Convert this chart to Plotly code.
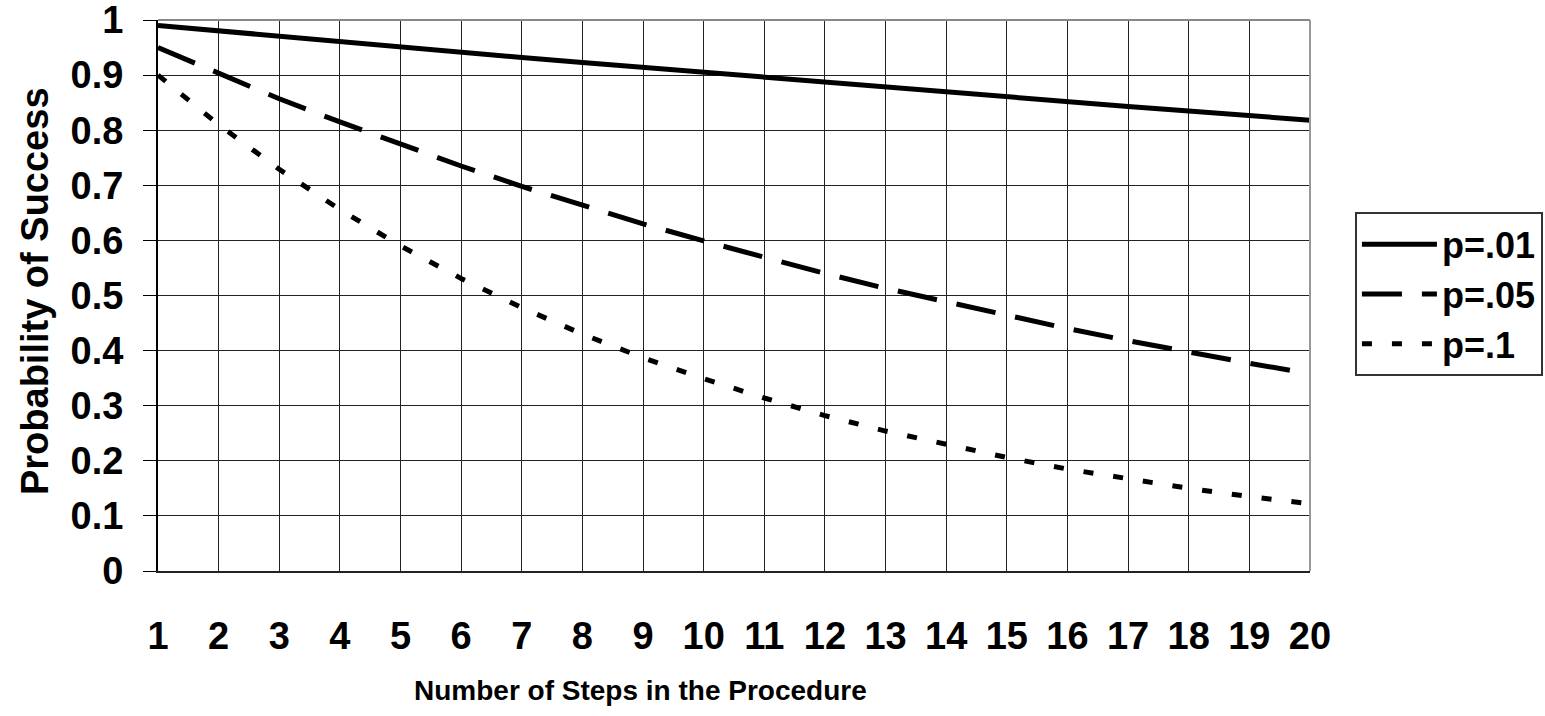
import plotly.graph_objects as go

# Number of steps in the procedure
steps = list(range(1, 21))

# Probability that every step succeeds, for three per-step error rates
p_001 = [0.990, 0.980, 0.970, 0.961, 0.951, 0.941, 0.932, 0.923, 0.914, 0.904,
         0.895, 0.886, 0.878, 0.869, 0.860, 0.851, 0.843, 0.835, 0.826, 0.818]
p_005 = [0.950, 0.903, 0.857, 0.815, 0.774, 0.735, 0.698, 0.663, 0.630, 0.599,
         0.569, 0.540, 0.513, 0.488, 0.463, 0.440, 0.418, 0.397, 0.377, 0.358]
p_010 = [0.900, 0.810, 0.729, 0.656, 0.590, 0.531, 0.478, 0.430, 0.387, 0.349,
         0.314, 0.282, 0.254, 0.229, 0.206, 0.185, 0.167, 0.150, 0.135, 0.122]

series_names = ["p=.01", "p=.05", "p=.1"]
y_ticks = [0, 0.1, 0.2, 0.3, 0.4, 0.5, 0.6, 0.7, 0.8, 0.9, 1]

FONT = "Liberation Sans, Arial, sans-serif"

fig = go.Figure()
styles = ["solid", "40px,20px", "10px,20px"]
for i, (name, vals, dash) in enumerate(zip(series_names, [p_001, p_005, p_010], styles)):
    fig.add_trace(go.Scatter(
        x=steps, y=vals, mode="lines", name=name, legendgroup=f"g{i}",
        line=dict(color="black", width=5, dash=dash),
    ))

fig.update_layout(
    width=1545, height=716,
    margin=dict(l=158, r=235, t=20, b=145, autoexpand=False),
    paper_bgcolor="white", plot_bgcolor="white",
    font=dict(family=FONT, color="black", size=38, weight="bold"),
    showlegend=True,
    legend=dict(
        x=1.039, y=0.651, xanchor="left", yanchor="top",
        bordercolor="#333", borderwidth=2, bgcolor="white",
        font=dict(family=FONT, size=36, weight="bold", color="black"),
        itemwidth=75, tracegroupgap=8, traceorder="normal",
    ),
    xaxis=dict(
        range=[1, 20], tickmode="array", tickvals=steps,
        showgrid=True, gridcolor="#222", gridwidth=1,
        showline=True, linecolor="#222", linewidth=2,
        ticks="", ticklabelstandoff=30, zeroline=False,
        ticklabeloverflow="allow",
        tickfont=dict(family=FONT, size=38, weight="bold"),
    ),
    yaxis=dict(
        range=[0, 1], tickmode="array", tickvals=y_ticks,
        ticktext=[f"{v:g}" for v in y_ticks],
        showgrid=True, gridcolor="#222", gridwidth=1,
        showline=True, linecolor="black", linewidth=2,
        ticks="outside", ticklen=13, tickcolor="black", tickwidth=1,
        ticklabelstandoff=12, zeroline=False,
        ticklabeloverflow="allow",
        tickfont=dict(family=FONT, size=38, weight="bold"),
    ),
    shapes=[
        dict(type="line", xref="paper", yref="paper", x0=0, x1=1, y0=1, y1=1,
             line=dict(color="#888", width=2)),
        dict(type="line", xref="paper", yref="paper", x0=1, x1=1, y0=0, y1=1,
             line=dict(color="#999", width=2)),
    ],
    annotations=[
        dict(text="Number of Steps in the Procedure", xref="paper", yref="paper",
             x=0.419, y=-0.216, xanchor="center", yanchor="middle", showarrow=False,
             font=dict(family=FONT, size=28, weight="bold")),
        dict(text="Probability of Success", xref="paper", yref="paper",
             x=-0.1068, y=0.508, xanchor="center", yanchor="middle", showarrow=False,
             textangle=-90, font=dict(family=FONT, size=38, weight="bold")),
    ],
)

fig.write_html("out.html")
